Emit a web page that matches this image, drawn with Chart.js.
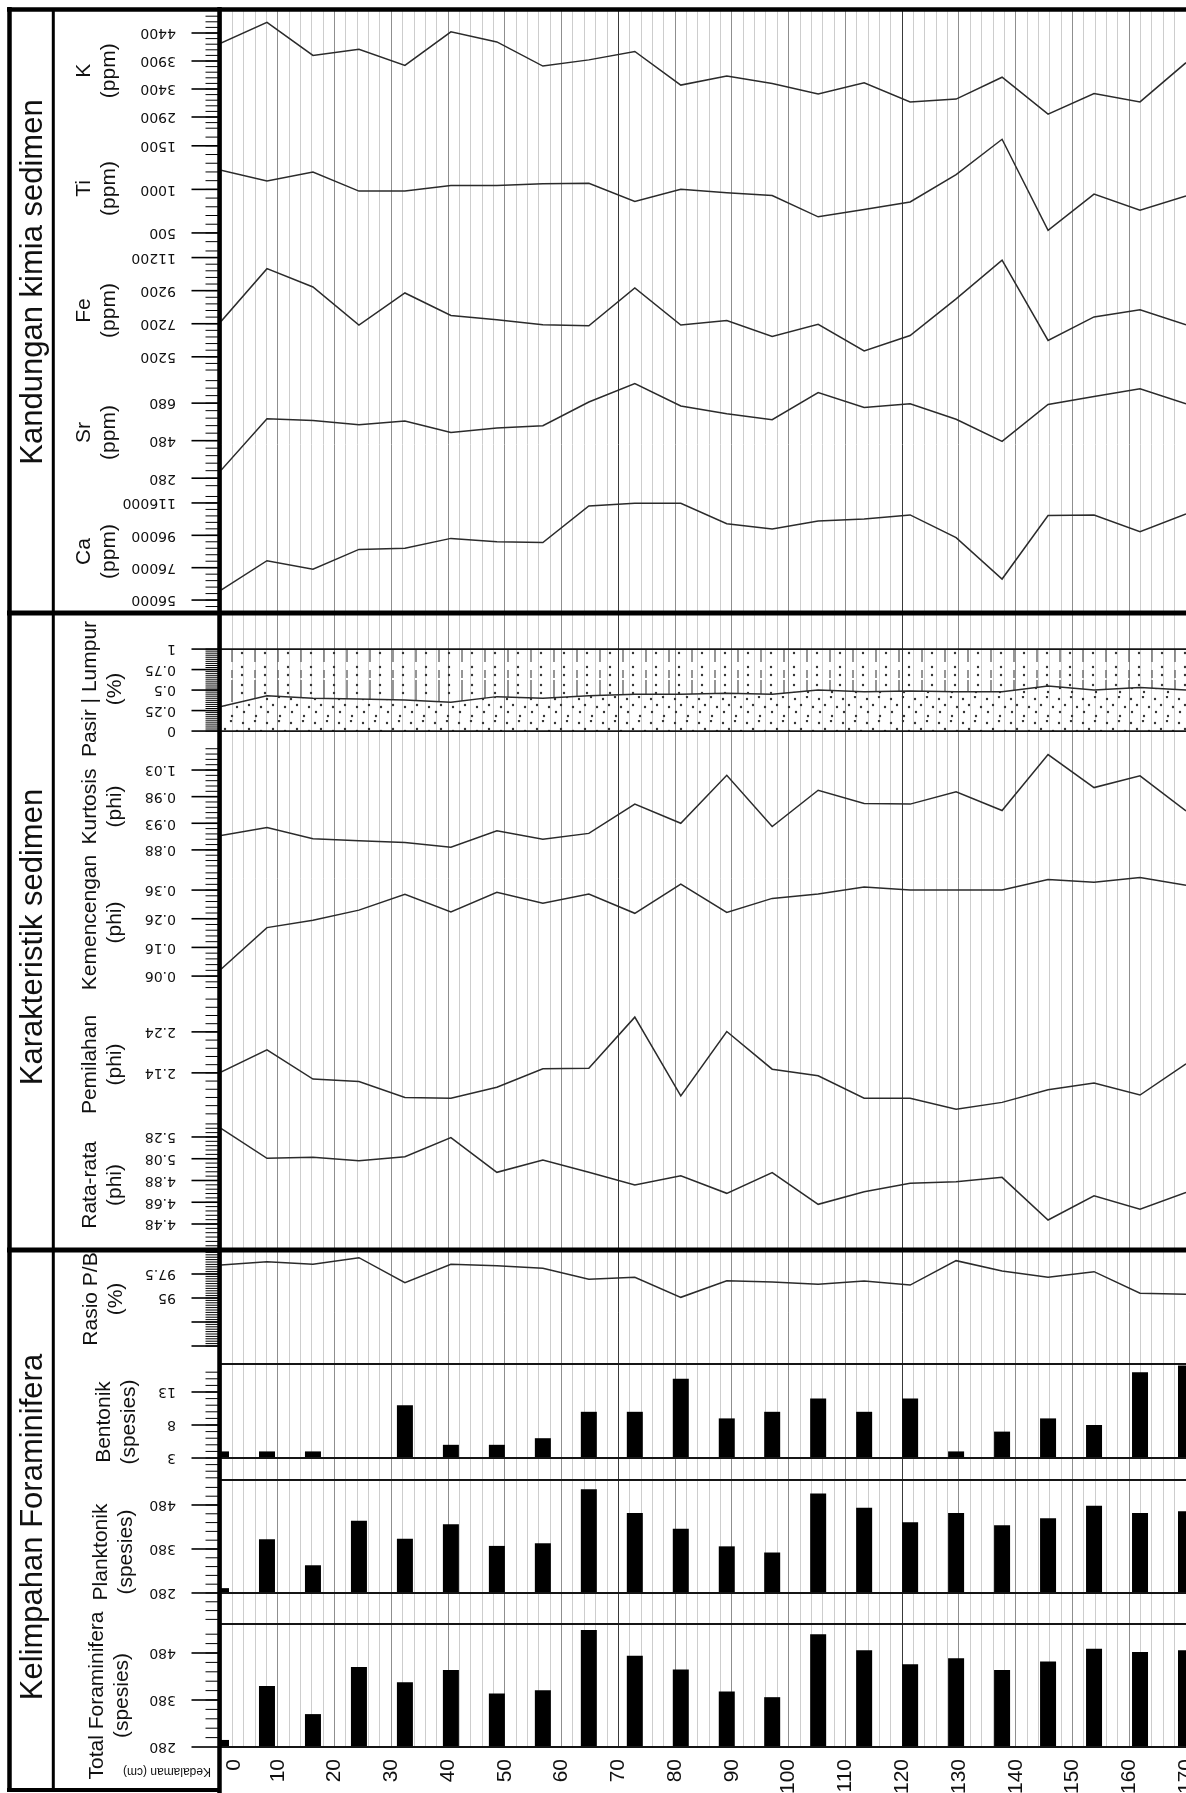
<!DOCTYPE html>
<html>
<head>
<meta charset="utf-8">
<title>Kelimpahan Foraminifera dan karakteristik sedimen</title>
<script src="https://cdn.jsdelivr.net/npm/chart.js@4.4.1/dist/chart.umd.min.js"></script>
<style>
  html, body { margin: 0; padding: 0; background: #fff; overflow: hidden; }
  #wrap { position: relative; width: 1186px; height: 1793px; }
</style>
</head>
<body>
<div id="wrap"><canvas id="coreChart" width="1186" height="1793"></canvas></div>
<script>
// sample depths (cm) and depth labels
const depths = [0, 8.1, 16.2, 24.3, 32.4, 40.5, 48.6, 56.7, 64.8, 72.9, 81, 89.1, 97.1, 105.2, 113.3, 121.4, 129.5, 137.6, 145.7, 153.8, 161.9, 170];
const depthTicks = [0, 10, 20, 30, 40, 50, 60, 70, 80, 90, 100, 110, 120, 130, 140, 150, 160, 170];
const darkLines = [70, 120];

// Kandungan kimia sedimen
const kPpm = [4220, 4590, 4000, 4110, 3820, 4420, 4240, 3810, 3920, 4070, 3470, 3630, 3500, 3310, 3510, 3170, 3220, 3610, 2950, 3320, 3170, 3870];
const tiPpm = [1220, 1095, 1200, 980, 980, 1045, 1045, 1065, 1070, 860, 1000, 960, 930, 685, 770, 855, 1170, 1575, 530, 945, 760, 925];
const fePpm = [7340, 10530, 9420, 7120, 9060, 7700, 7440, 7140, 7080, 9360, 7120, 7400, 6430, 7160, 5560, 6490, 8700, 11040, 6190, 7610, 8050, 7140];
const srPpm = [322, 597, 588, 565, 585, 523, 548, 560, 686, 784, 665, 624, 592, 736, 657, 677, 594, 476, 673, 716, 757, 676];
const caPpm = [62100, 80300, 75000, 87300, 88000, 94100, 92100, 91500, 114100, 115800, 115800, 103200, 99900, 104900, 106100, 108600, 94600, 69000, 108200, 108600, 98300, 109200];

// Karakteristik sedimen
const pasir = [0.30, 0.43, 0.40, 0.39, 0.38, 0.35, 0.42, 0.40, 0.43, 0.45, 0.45, 0.46, 0.45, 0.50, 0.48, 0.49, 0.48, 0.48, 0.55, 0.50, 0.53, 0.50];
const lumpur = [0.70, 0.57, 0.60, 0.61, 0.62, 0.65, 0.58, 0.60, 0.57, 0.55, 0.55, 0.54, 0.55, 0.50, 0.52, 0.51, 0.52, 0.52, 0.45, 0.50, 0.47, 0.50];
const kurtosis = [0.907, 0.922, 0.901, 0.897, 0.894, 0.885, 0.916, 0.900, 0.911, 0.966, 0.930, 1.020, 0.924, 0.992, 0.967, 0.966, 0.989, 0.954, 1.059, 0.997, 1.019, 0.953];
const kemencengan = [0.084, 0.229, 0.255, 0.290, 0.345, 0.284, 0.352, 0.314, 0.346, 0.279, 0.381, 0.282, 0.331, 0.346, 0.371, 0.360, 0.360, 0.360, 0.397, 0.387, 0.404, 0.377];
const pemilahan = [2.142, 2.196, 2.125, 2.119, 2.080, 2.078, 2.105, 2.150, 2.151, 2.276, 2.084, 2.241, 2.149, 2.133, 2.078, 2.078, 2.051, 2.068, 2.099, 2.115, 2.086, 2.162];
const rataRata = [5.360, 5.084, 5.093, 5.062, 5.099, 5.274, 4.955, 5.069, 4.955, 4.839, 4.924, 4.762, 4.952, 4.661, 4.777, 4.854, 4.869, 4.909, 4.517, 4.740, 4.615, 4.771];

// Kelimpahan Foraminifera
const rasioPB = [98.44, 98.78, 98.51, 99.20, 96.59, 98.51, 98.36, 98.09, 96.95, 97.16, 95.07, 96.80, 96.67, 96.43, 96.77, 96.35, 98.89, 97.81, 97.16, 97.74, 95.49, 95.39];
const bentonik = [4, 4, 4, 3, 11, 5, 5, 6, 10, 10, 15, 9, 10, 12, 10, 12, 4, 7, 9, 8, 16, 17];
const planktonik = [291, 402, 343, 444, 403, 436, 387, 393, 516, 462, 426, 386, 372, 506, 474, 441, 462, 434, 450, 478, 462, 466];
const totalForam = [295, 410, 350, 450, 418, 444, 394, 401, 529, 474, 445, 398, 386, 520, 486, 456, 469, 444, 462, 489, 482, 486];

// tick labels per panel
const kTicks = [2900, 3400, 3900, 4400];
const tiTicks = [500, 1000, 1500];
const feTicks = [5200, 7200, 9200, 11200];
const srTicks = [280, 480, 680];
const caTicks = [56000, 76000, 96000, 116000];
const plTicks = [0, 0.25, 0.5, 0.75, 1];
const kuTicks = [0.88, 0.93, 0.98, 1.03];
const keTicks = [0.06, 0.16, 0.26, 0.36];
const peTicks = [2.14, 2.24];
const rrTicks = [4.48, 4.68, 4.88, 5.08, 5.28];
const raTicks = [95, 97.5];
const beTicks = [3, 8, 13];
const pkTicks = [280, 380, 480];
const toTicks = [280, 380, 480];

const sections = [
	{ title: 'Kandungan kimia sedimen', first: 'yK', last: 'yCa', titleY: 282 },
	{ title: 'Karakteristik sedimen', first: 'yPL', last: 'yRr', titleY: 937 },
	{ title: 'Kelimpahan Foraminifera', first: 'yRa', last: 'yTo', titleY: 1527 }
];

// panels from top to bottom; weight = height in pixels
const panels = [
	{ id: 'yK', name: 'K', unit: '(ppm)', min: 2650, max: 4800, weight: 120.4, labels: kTicks, step: 100, lx: 97 },
	{ id: 'yTi', name: 'Ti', unit: '(ppm)', min: 350, max: 1670, weight: 115, labels: tiTicks, step: 100, lx: 97 },
	{ id: 'yFe', name: 'Fe', unit: '(ppm)', min: 4100, max: 11900, weight: 129, labels: feTicks, step: 400, lx: 97 },
	{ id: 'ySr', name: 'Sr', unit: '(ppm)', min: 217, max: 830, weight: 115, labels: srTicks, step: 40, lx: 97 },
	{ id: 'yCa', name: 'Ca', unit: '(ppm)', min: 48000, max: 124000, weight: 123, labels: caTicks, step: 4000, lx: 97 },
	{ id: 'yPL', name: 'Pasir | Lumpur', unit: '(%)', min: -0.17, max: 1.44, weight: 132, labels: plTicks, step: 0.025, from: 0, to: 1, lx: 103, dy: 10, stacked: true, rules: [0] },
	{ id: 'yKu', name: 'Kurtosis', unit: '(phi)', min: 0.846, max: 1.077, weight: 123, labels: kuTicks, step: 0.01, lx: 103 },
	{ id: 'yKe', name: 'Kemencengan', unit: '(phi)', min: -0.006, max: 0.437, weight: 127, labels: keTicks, step: 0.02, lx: 103, dy: -9 },
	{ id: 'yPe', name: 'Pemilahan', unit: '(phi)', min: 2.025, max: 2.33, weight: 125, labels: peTicks, step: 0.02, lx: 103, dy: 7 },
	{ id: 'yRr', name: 'Rata-rata', unit: '(phi)', min: 4.241, max: 5.436, weight: 130, labels: rrTicks, step: 0.04, lx: 103 },
	{ id: 'yRa', name: 'Rasio P/B', unit: '(%)', min: 88.125, max: 100, weight: 114, labels: raTicks, major: [92.5, 90], step: 0.25, from: 90, lx: 104, dy: -8 },
	{ id: 'yBe', name: 'Bentonik', unit: '(spesies)', min: -0.33, max: 17.24, weight: 116, labels: beTicks, step: 1, lx: 117, topLine: true, rules: [3] },
	{ id: 'yPk', name: 'Planktonik', unit: '(spesies)', min: 209.5, max: 536.8, weight: 144, labels: pkTicks, step: 20, lx: 114, topLine: true, rules: [280] },
	{ id: 'yTo', name: 'Total Foraminifera', unit: '(spesies)', min: 280, max: 541.7, weight: 123, labels: toTicks, step: 20, lx: 110, dy: 10, topLine: true, rules: [280] }
];

const SANS = '"Liberation Sans", Arial, sans-serif';

function pts(vals) {
	return depths.map((d, i) => ({ x: d, y: vals[i] }));
}

function lineSet(label, axis, vals) {
	return { type: 'line', label: label, yAxisID: axis, data: pts(vals), borderColor: '#2b2b2b', borderWidth: 1.5, pointRadius: 0, tension: 0, fill: false };
}

// the 2 cm grid ticks shrink the bar ruler, so widen the percentage and cap the width
function barSet(label, axis, vals, base) {
	return {
		type: 'bar', label: label, yAxisID: axis, data: pts(vals), base: base,
		backgroundColor: '#000', grouped: false,
		categoryPercentage: 1, barPercentage: 1.6, maxBarThickness: 16, clip: 0
	};
}

function makePattern(w, h, draw) {
	const c = document.createElement('canvas');
	c.width = w;
	c.height = h;
	const g = c.getContext('2d');
	draw(g);
	return g.createPattern(c, 'repeat');
}

function dot(g, x, y) {
	g.beginPath();
	g.arc(x, y, 1.2, 0, Math.PI * 2);
	g.fill();
}

const sandFill = makePattern(24, 24, g => {
	g.fillStyle = '#333';
	[[3, 3], [15, 1], [9, 9], [21, 11], [4, 16], [16, 20]].forEach(p => dot(g, p[0], p[1]));
});

const mudFill = makePattern(23, 40, g => {
	g.strokeStyle = '#6a6a6a';
	g.lineWidth = 1.4;
	g.beginPath();
	g.moveTo(2, 0); g.lineTo(2, 22);
	g.moveTo(2, 30); g.lineTo(2, 38);
	g.stroke();
	g.fillStyle = '#333';
	[[12, 5], [12, 13], [12, 27], [12, 35]].forEach(p => dot(g, p[0], p[1]));
});

function gridColor(ctx) {
	if (!ctx.tick) return '#cdcdcd';
	const v = ctx.tick.value;
	if (darkLines.includes(v)) return '#3a3a3a';
	if (v % 10 === 0) return '#8f8f8f';
	return '#cdcdcd';
}

function hLine(ctx, x0, x1, y, w) {
	ctx.lineWidth = w;
	ctx.beginPath();
	ctx.moveTo(x0, y);
	ctx.lineTo(x1, y);
	ctx.stroke();
}

function vLine(ctx, x, y0, y1, w) {
	ctx.lineWidth = w;
	ctx.beginPath();
	ctx.moveTo(x, y0);
	ctx.lineTo(x, y1);
	ctx.stroke();
}

function stepValues(lo, hi, step) {
	const out = [];
	const n0 = Math.ceil(lo / step - 1e-9);
	const n1 = Math.floor(hi / step + 1e-9);
	for (let n = n0; n <= n1; n++) out.push(+(n * step).toFixed(6));
	return out;
}

const framePlugin = {
	id: 'coreFrame',
	afterDraw(chart) {
		const ctx = chart.ctx;
		const xs = chart.scales.x;
		const W = chart.width;
		const H = chart.height;
		const axisX = 219.5;

		ctx.save();
		ctx.strokeStyle = '#151515';

		// panel tops and base lines inside the plot
		panels.forEach(p => {
			const s = chart.scales[p.id];
			if (p.topLine) hLine(ctx, xs.left, W, s.top, 1.8);
			(p.rules || []).forEach(v => hLine(ctx, xs.left, W, s.getPixelForValue(v), 1.8));
		});

		// frame
		ctx.strokeStyle = '#000';
		hLine(ctx, 7, W, 9.5, 4.5);
		sections.forEach((sec, i) => {
			if (i < sections.length - 1) hLine(ctx, 7, W, chart.scales[sec.last].bottom, 5);
		});
		vLine(ctx, 9.5, 7, 1792, 4.5);
		vLine(ctx, 53.3, 9.5, 1790, 3);
		hLine(ctx, 7, axisX, 1790, 4);
		vLine(ctx, axisX, 7, H, 4.5);

		// y ticks
		ctx.fillStyle = '#111';
		panels.forEach(p => {
			const s = chart.scales[p.id];
			const lo = p.from !== undefined ? p.from : p.min;
			const hi = p.to !== undefined ? p.to : p.max;
			stepValues(lo, hi, p.step).forEach(v => {
				const y = s.getPixelForValue(v);
				if (y < s.top + 2 || y > s.bottom - 2) return;
				hLine(ctx, axisX - 14, axisX, y, 1);
			});
			p.labels.concat(p.major || []).forEach(v => {
				hLine(ctx, axisX - 28, axisX, s.getPixelForValue(v), 1.6);
			});
			ctx.font = '14px "DejaVu Sans", sans-serif';
			ctx.textAlign = 'left';
			ctx.textBaseline = 'middle';
			p.labels.forEach(v => {
				ctx.save();
				ctx.translate(176, s.getPixelForValue(v));
				ctx.rotate(Math.PI);
				ctx.fillText(String(v), 0, 0);
				ctx.restore();
			});
		});

		// panel names, clipped to their section
		sections.forEach((sec, i) => {
			const top = i === 0 ? 11 : chart.scales[sec.first].top + 2;
			const bottom = i === sections.length - 1 ? 1788 : chart.scales[sec.last].bottom - 2;
			ctx.save();
			ctx.beginPath();
			ctx.rect(55, top, 162, bottom - top);
			ctx.clip();
			ctx.font = '21px ' + SANS;
			ctx.textAlign = 'center';
			ctx.textBaseline = 'middle';
			const from = panels.findIndex(p => p.id === sec.first);
			const to = panels.findIndex(p => p.id === sec.last);
			panels.slice(from, to + 1).forEach(p => {
				const s = chart.scales[p.id];
				const cy = (s.top + s.bottom) / 2 + (p.dy || 0);
				[[p.name, p.lx - 12.5], [p.unit, p.lx + 12.5]].forEach(t => {
					ctx.save();
					ctx.translate(t[1], cy);
					ctx.rotate(-Math.PI / 2);
					ctx.fillText(t[0], 0, 0);
					ctx.restore();
				});
			});
			ctx.restore();

			// section title
			ctx.save();
			ctx.font = '31px ' + SANS;
			ctx.textAlign = 'center';
			ctx.textBaseline = 'middle';
			ctx.translate(33, sec.titleY);
			ctx.rotate(-Math.PI / 2);
			ctx.fillText(sec.title, 0, 0);
			ctx.restore();
		});

		// depth labels
		ctx.font = '21px ' + SANS;
		ctx.textAlign = 'right';
		ctx.textBaseline = 'middle';
		depthTicks.forEach(d => {
			const px = xs.getPixelForValue(d) + (d === 0 ? 13 : 0);
			ctx.save();
			ctx.translate(px, xs.bottom + 12);
			ctx.rotate(-Math.PI / 2);
			ctx.fillText(String(d), 0, 0);
			ctx.restore();
		});

		ctx.save();
		ctx.font = '12px ' + SANS;
		ctx.textAlign = 'center';
		ctx.translate(167, 1771);
		ctx.rotate(Math.PI);
		ctx.fillText('Kedalaman (cm)', 0, 0);
		ctx.restore();

		ctx.restore();
	}
};

const scales = {
	x: {
		type: 'linear',
		min: 0,
		max: 170,
		offset: false,
		ticks: { display: false, stepSize: 2 },
		grid: { drawTicks: false, lineWidth: 1, color: gridColor, offset: false },
		border: { display: false }
	}
};

// stacked axes are placed bottom-up in definition order
panels.slice().reverse().forEach(p => {
	scales[p.id] = {
		type: 'linear',
		display: false,
		position: 'left',
		stack: 'core',
		stackWeight: p.weight,
		min: p.min,
		max: p.max,
		stacked: !!p.stacked
	};
});

const datasets = [
	lineSet('K', 'yK', kPpm),
	lineSet('Ti', 'yTi', tiPpm),
	lineSet('Fe', 'yFe', fePpm),
	lineSet('Sr', 'ySr', srPpm),
	lineSet('Ca', 'yCa', caPpm),
	{ type: 'line', label: 'Pasir', yAxisID: 'yPL', data: pts(pasir), borderColor: '#2b2b2b', borderWidth: 1.5, pointRadius: 0, tension: 0, fill: 'origin', backgroundColor: sandFill },
	{ type: 'line', label: 'Lumpur', yAxisID: 'yPL', data: pts(lumpur), borderColor: '#151515', borderWidth: 1.8, pointRadius: 0, tension: 0, fill: '-1', backgroundColor: mudFill },
	lineSet('Kurtosis', 'yKu', kurtosis),
	lineSet('Kemencengan', 'yKe', kemencengan),
	lineSet('Pemilahan', 'yPe', pemilahan),
	lineSet('Rata-rata', 'yRr', rataRata),
	lineSet('Rasio P/B', 'yRa', rasioPB),
	barSet('Bentonik', 'yBe', bentonik, 3),
	barSet('Planktonik', 'yPk', planktonik, 280),
	barSet('Total Foraminifera', 'yTo', totalForam, 280)
];

document.addEventListener('DOMContentLoaded', () => {
	new Chart(document.getElementById('coreChart'), {
		type: 'line',
		data: { datasets: datasets },
		options: {
			responsive: false,
			animation: false,
			events: [],
			layout: { autoPadding: false, padding: { left: 221, right: 0, top: 10.6, bottom: 46 } },
			plugins: { legend: { display: false }, tooltip: { enabled: false } },
			scales: scales
		},
		plugins: [framePlugin]
	});
});
</script>
</body>
</html>
